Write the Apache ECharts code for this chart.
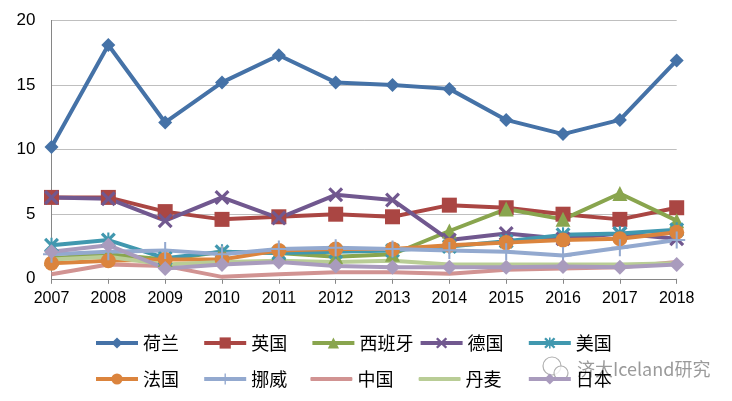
<!DOCTYPE html>
<html><head><meta charset="utf-8">
<script src="https://cdn.jsdelivr.net/npm/echarts@6/dist/echarts.min.js"></script>
<style>html,body{margin:0;padding:0;background:#fff}#c{width:732px;height:401px}</style>
</head><body><div id="c"></div>
<script>
const years = ['2007','2008','2009','2010','2011','2012','2013','2014','2015','2016','2017','2018'];
const yTicks = [0, 5, 10, 15, 20];
const netherlands = [10.2, 18.1, 12.1, 15.2, 17.3, 15.2, 15.0, 14.7, 12.3, 11.2, 12.3, 16.9];
const uk          = [6.3, 6.3, 5.2, 4.6, 4.8, 5.0, 4.8, 5.7, 5.5, 5.0, 4.6, 5.5];
const spain       = [1.6, 1.9, 1.5, 2.1, 2.0, 1.7, 1.9, 3.7, 5.4, 4.6, 6.6, 4.5];
const germany     = [6.3, 6.2, 4.5, 6.3, 4.7, 6.5, 6.1, 3.0, 3.5, 3.1, 3.5, 3.1];
const usa         = [2.6, 3.0, 1.6, 2.1, 2.0, 2.1, 2.2, 2.5, 2.9, 3.4, 3.5, 3.8];
const france      = [1.2, 1.4, 1.5, 1.5, 2.2, 2.3, 2.3, 2.6, 2.8, 3.0, 3.1, 3.6];
const norway      = [1.9, 2.1, 2.2, 1.9, 2.3, 2.4, 2.3, 2.2, 2.1, 1.8, 2.4, 3.0];
const china       = [0.35, 1.1, 1.0, 0.15, 0.35, 0.5, 0.5, 0.4, 0.7, 0.8, 0.9, 1.3];
const denmark     = [1.5, 1.7, 1.1, 1.3, 1.4, 1.3, 1.4, 1.1, 1.1, 1.1, 1.1, 1.2];
const japan       = [2.1, 2.6, 0.8, 1.1, 1.3, 1.0, 0.9, 0.9, 0.9, 0.95, 0.9, 1.1];

const names = ['荷兰','英国','西班牙','德国','美国','法国','挪威','中国','丹麦','日本'];
const colors = ['#4572A7','#AA4643','#89A54E','#71588F','#4198AF','#DB843D','#93A9CF','#D19392','#B9CD96','#A99BBD'];
const dataSets = [netherlands, uk, spain, germany, usa, france, norway, china, denmark, japan];
const watermark = '济大Iceland研究';

const X_PATH = 'path://M0,1.5 L1.5,0 L5,3.5 L8.5,0 L10,1.5 L6.5,5 L10,8.5 L8.5,10 L5,6.5 L1.5,10 L0,8.5 L3.5,5 Z';
const AST_PATH = 'path://M0,1.5 L1.5,0 L5,3.5 L8.5,0 L10,1.5 L6.5,5 L10,8.5 L8.5,10 L5,6.5 L1.5,10 L0,8.5 L3.5,5 Z M4.3,0 L5.7,0 L5.7,10 L4.3,10 Z';
const PLUS_PATH = 'path://M4.4,0 L5.6,0 L5.6,4.4 L10,4.4 L10,5.6 L5.6,5.6 L5.6,10 L4.4,10 L4.4,5.6 L0,5.6 L0,4.4 L4.4,4.4 Z';
const symbols = ['diamond','rect','triangle',X_PATH,AST_PATH,'circle',PLUS_PATH,'none','none','diamond'];
const sizes = [14, 15, 15, 15, 15, 15, 17, 0, 0, 15];

const series = names.map((n, i) => ({
  name: n,
  type: 'line',
  data: dataSets[i],
  symbol: symbols[i],
  symbolSize: sizes[i],
  showSymbol: symbols[i] !== 'none',
  lineStyle: { width: 4, color: colors[i] },
  itemStyle: { color: colors[i] },
  emphasis: { disabled: true },
  animation: false
}));

const legendText = { fontSize: 18, fontFamily: 'Noto Sans CJK SC', color: '#000' };
const legends = names.map((n, i) => {
  const plain = symbols[i] === 'none';
  return {
    data: plain ? [{ name: n, icon: 'roundRect' }] : [n],
    left: 94 + (i % 5) * 108.2,
    top: (i < 5 ? 347 : 383) - 13,
    padding: 0,
    itemWidth: 42, itemHeight: plain ? 4 : 14, itemGap: 0,
    lineStyle: { width: 4 },
    textStyle: legendText,
    selectedMode: false
  };
});

const chart = echarts.init(document.getElementById('c'), null, { renderer: 'canvas' });
chart.setOption({
  backgroundColor: '#fff',
  animation: false,
  grid: { left: 51.5, right: 55.3, top: 20.4, bottom: 122.2, containLabel: false },
  xAxis: {
    type: 'category', data: years, boundaryGap: false,
    axisLine: { lineStyle: { color: '#868686', width: 1 } },
    axisTick: { show: true, length: 5, lineStyle: { color: '#868686' } },
    axisLabel: { color: '#000', fontSize: 16, fontFamily: 'Liberation Sans', margin: 12 }
  },
  yAxis: {
    type: 'value', min: yTicks[0], max: yTicks[yTicks.length - 1], interval: 5,
    axisLine: { show: true, lineStyle: { color: '#868686', width: 1 } },
    axisTick: { show: false },
    splitLine: { lineStyle: { color: '#BFBFBF', width: 1 } },
    axisLabel: { color: '#000', fontSize: 17, fontFamily: 'Liberation Sans', margin: 16 }
  },
  legend: legends,
  graphic: [
    { type: 'circle', shape: { cx: 552, cy: 366, r: 9 }, style: { fill: 'rgba(255,255,255,0.6)', stroke: '#b0b0b0', lineWidth: 1.2 } },
    { type: 'circle', shape: { cx: 561, cy: 373, r: 7 }, style: { fill: 'rgba(255,255,255,0.8)', stroke: '#b0b0b0', lineWidth: 1.2 } },
    { type: 'text', left: 577, top: 360, style: { text: watermark, fill: 'rgba(120,120,120,0.75)', font: '18px "Noto Sans CJK SC"' } }
  ],
  series: series
});
</script></body></html>
